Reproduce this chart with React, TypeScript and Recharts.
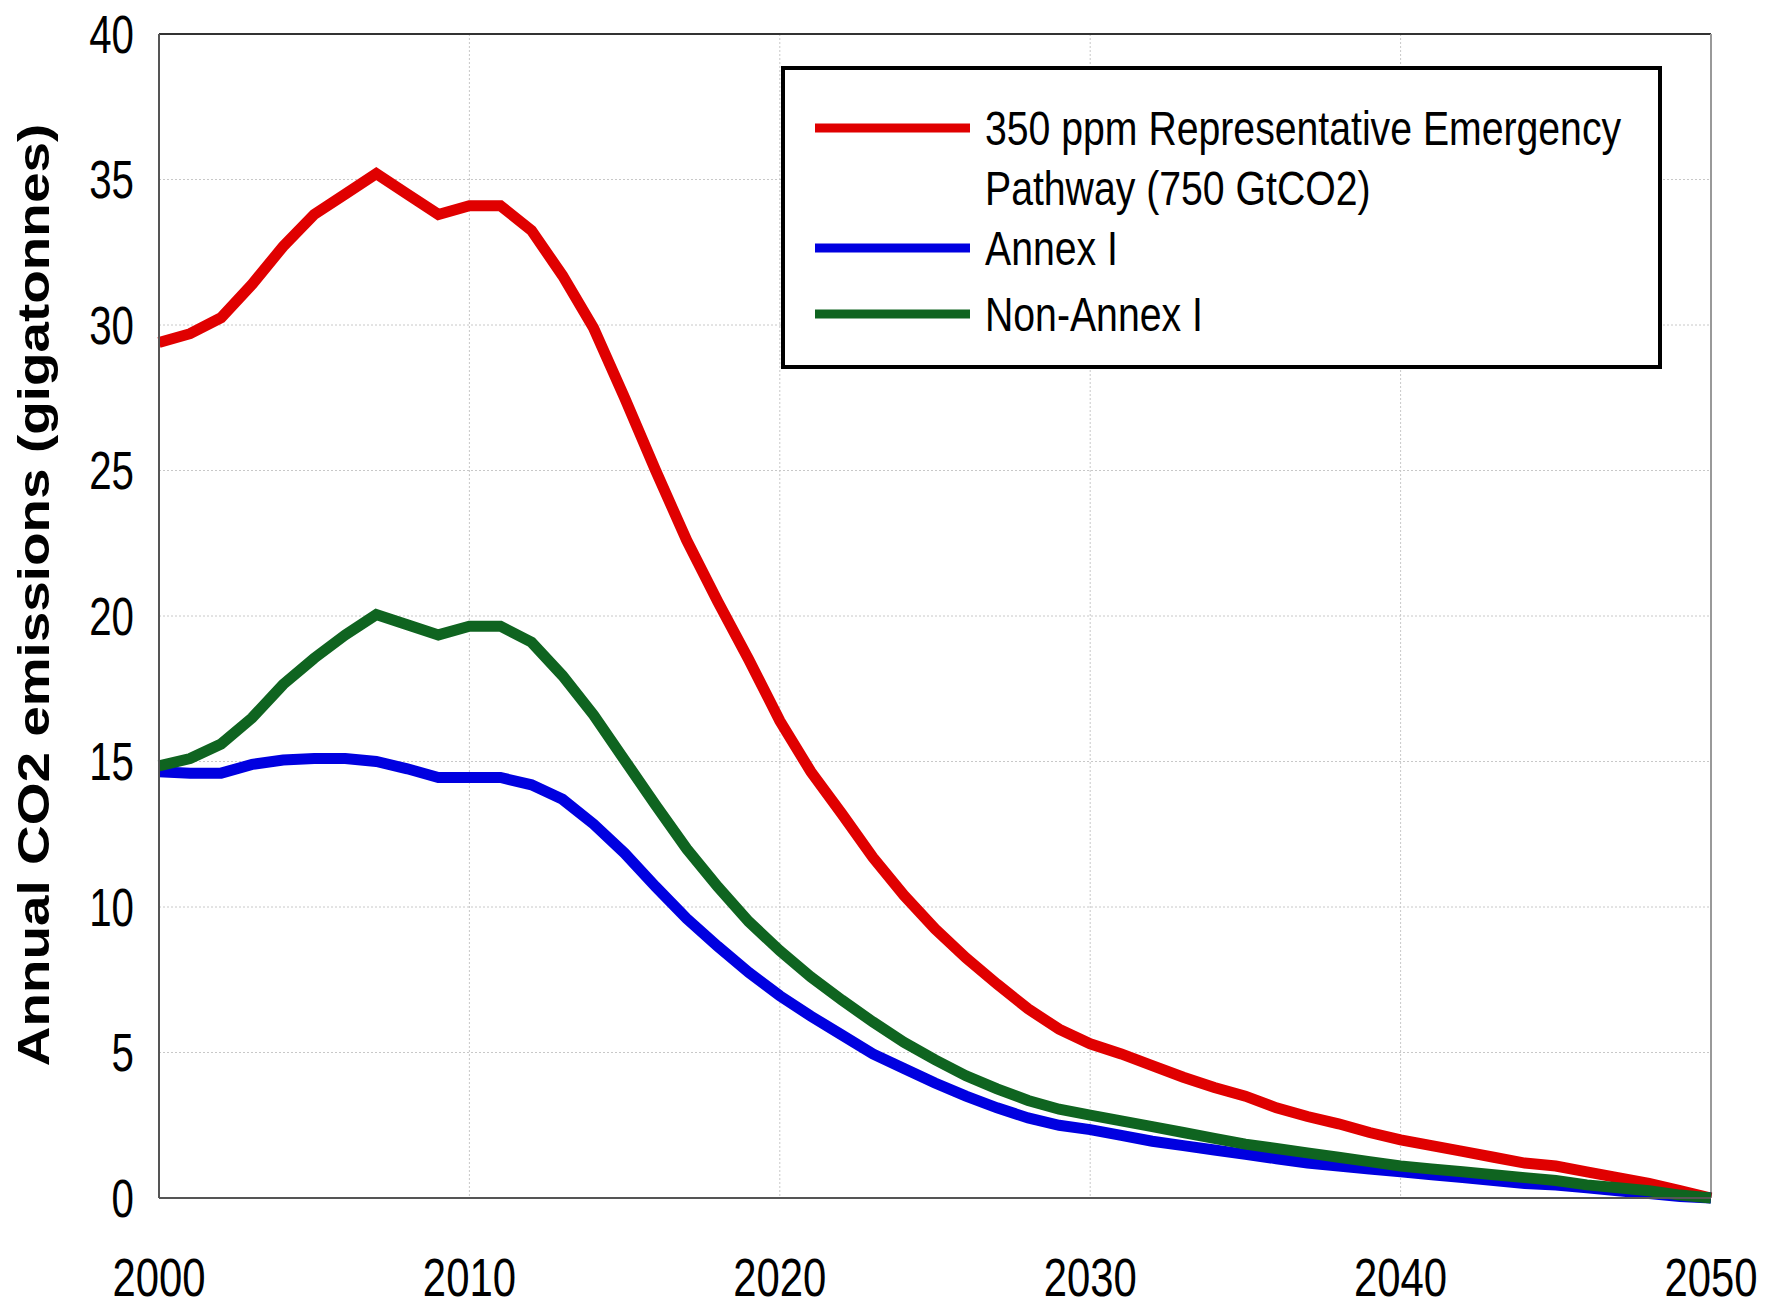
import { CartesianGrid, Legend, Line, LineChart, ReferenceLine, XAxis, YAxis } from 'recharts'

const years = [
  2000, 2001, 2002, 2003, 2004, 2005, 2006, 2007, 2008, 2009,
  2010, 2011, 2012, 2013, 2014, 2015, 2016, 2017, 2018, 2019,
  2020, 2021, 2022, 2023, 2024, 2025, 2026, 2027, 2028, 2029,
  2030, 2031, 2032, 2033, 2034, 2035, 2036, 2037, 2038, 2039,
  2040, 2041, 2042, 2043, 2044, 2045, 2046, 2047, 2048, 2049, 2050,
]

const emergencyPathway = [
  29.4, 29.7, 30.25, 31.4, 32.7, 33.8, 34.5, 35.2, 34.5, 33.8,
  34.1, 34.1, 33.25, 31.7, 29.9, 27.5, 25.0, 22.6, 20.5, 18.5,
  16.4, 14.65, 13.2, 11.7, 10.4, 9.25, 8.25, 7.35, 6.5, 5.8,
  5.3, 4.95, 4.55, 4.15, 3.8, 3.5, 3.1, 2.8, 2.55, 2.25,
  2.0, 1.8, 1.6, 1.4, 1.2, 1.1, 0.9, 0.7, 0.5, 0.25, 0,
]

const annexI = [
  14.65, 14.6, 14.6, 14.9, 15.05, 15.1, 15.1, 15.0, 14.75, 14.45,
  14.45, 14.45, 14.2, 13.7, 12.85, 11.85, 10.7, 9.6, 8.65, 7.75,
  6.95, 6.25, 5.6, 4.95, 4.45, 3.95, 3.5, 3.1, 2.75, 2.5,
  2.35, 2.15, 1.95, 1.8, 1.65, 1.5, 1.35, 1.2, 1.1, 1.0,
  0.9, 0.8, 0.7, 0.6, 0.5, 0.45, 0.35, 0.25, 0.15, 0.05, 0,
]

const nonAnnexI = [
  14.85, 15.1, 15.6, 16.5, 17.65, 18.55, 19.35, 20.05, 19.7, 19.35,
  19.65, 19.65, 19.1, 17.95, 16.6, 15.05, 13.5, 12.0, 10.7, 9.5,
  8.5, 7.6, 6.8, 6.05, 5.35, 4.75, 4.2, 3.75, 3.35, 3.05,
  2.85, 2.65, 2.45, 2.25, 2.05, 1.85, 1.7, 1.55, 1.4, 1.25,
  1.1, 1.0, 0.9, 0.8, 0.7, 0.6, 0.45, 0.35, 0.25, 0.1, 0,
]

const seriesNames = ['350 ppm Representative Emergency Pathway (750 GtCO2)', 'Annex I', 'Non-Annex I']
const xTicks = [2000, 2010, 2020, 2030, 2040, 2050]
const yTicks = [0, 5, 10, 15, 20, 25, 30, 35, 40]

const data = years.map((year, i) => ({
  year,
  emergency: emergencyPathway[i],
  annex: annexI[i],
  nonAnnex: nonAnnexI[i],
}))

// the reference uses a narrow Arial-like face; squeeze Liberation Sans horizontally
const font = '"Liberation Sans", Arial, sans-serif'
const narrow = 0.76

function XTick({ x, y, payload }: any) {
  return (
    <g transform={`translate(${x}, ${y + 79}) scale(${narrow * 1.02}, 1)`}>
      <text x={0} y={0} textAnchor="middle" dominantBaseline="central" fontFamily={font} fontSize={54} fill="#000">
        {payload.value}
      </text>
    </g>
  )
}

function YTick({ x, y, payload }: any) {
  return (
    <g transform={`translate(${x - 25}, ${y}) scale(${narrow}, 1)`}>
      <text x={0} y={0} textAnchor="end" dominantBaseline="central" fontFamily={font} fontSize={53} fill="#000">
        {payload.value}
      </text>
    </g>
  )
}

// legend text rows: [text, y centre]
const legendRows: Array<[string, number]> = [
  ['350 ppm Representative Emergency', 62],
  ['Pathway (750 GtCO2)', 122],
  ['Annex I', 182],
  ['Non-Annex I', 248],
]
const legendLineY = [62, 182, 248]

function LegendBox({ payload }: any) {
  const items = payload || []
  return (
    <svg width={881} height={303} style={{ display: 'block' }}>
      <rect x={2} y={2} width={877} height={299} fill="#fff" stroke="#000" strokeWidth={4} />
      {items.map((item: any, i: number) => (
        <line key={item.value} x1={34} x2={189} y1={legendLineY[i]} y2={legendLineY[i]} stroke={item.color} strokeWidth={9} />
      ))}
      {legendRows.map(([t, cy]) => (
        <g key={t} transform={`translate(204, ${cy}) scale(0.8, 1)`}>
          <text x={0} y={0} dominantBaseline="central" fontFamily={font} fontSize={49} fill="#000">
            {t}
          </text>
        </g>
      ))}
    </svg>
  )
}

function YTitle() {
  return (
    <g transform="translate(34, 595) rotate(-90) scale(1.22, 1)">
      <text x={0} y={0} textAnchor="middle" dominantBaseline="central" fontFamily={font} fontWeight="bold" fontSize={45} fill="#000">
        Annual CO2 emissions (gigatonnes)
      </text>
    </g>
  )
}

export default function App() {
  return (
    <div style={{ margin: -8 }}>
      <LineChart width={1779} height={1310} data={data} margin={{ top: 34, right: 68, bottom: 0, left: 0 }}>
        <CartesianGrid stroke="#c8c8c8" strokeDasharray="2 2" />
        <XAxis
          dataKey="year"
          type="number"
          domain={[2000, 2050]}
          ticks={xTicks}
          height={112}
          tickLine={false}
          tickSize={0}
          tickMargin={0}
          axisLine={{ stroke: '#555', strokeWidth: 2 }}
          tick={<XTick />}
        />
        <YAxis
          width={159}
          domain={[0, 40]}
          ticks={yTicks}
          tickLine={false}
          tickSize={0}
          tickMargin={0}
          axisLine={{ stroke: '#555', strokeWidth: 2 }}
          tick={<YTick />}
          label={{ content: YTitle }}
        />
        <ReferenceLine y={40} stroke="#333" strokeWidth={2} />
        <ReferenceLine x={2050} stroke="#999" strokeWidth={2} />
        <Legend
          layout="horizontal"
          verticalAlign="middle"
          align="center"
          content={LegendBox}
          wrapperStyle={{ position: 'absolute', left: 781, top: 66, width: 881, height: 303 }}
        />
        <Line dataKey="emergency" name={seriesNames[0]} stroke="#e00000" strokeWidth={11} dot={false} isAnimationActive={false} />
        <Line dataKey="annex" name={seriesNames[1]} stroke="#0000e0" strokeWidth={11} dot={false} isAnimationActive={false} />
        <Line dataKey="nonAnnex" name={seriesNames[2]} stroke="#0f6420" strokeWidth={11} dot={false} isAnimationActive={false} />
      </LineChart>
    </div>
  )
}
